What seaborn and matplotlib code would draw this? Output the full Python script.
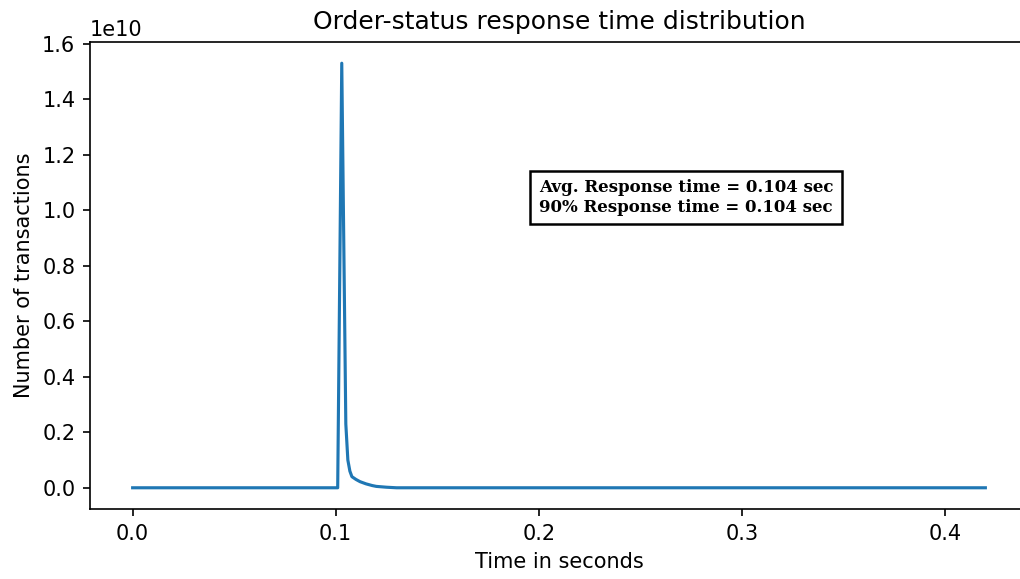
import matplotlib
matplotlib.use("Agg")
import matplotlib.pyplot as plt
import seaborn as sns
import pandas as pd

# Response time (s) and number of transactions
times = [0.000, 0.100, 0.101, 0.102, 0.103, 0.104, 0.105, 0.106, 0.107,
         0.108, 0.110, 0.112, 0.115, 0.118, 0.120, 0.125, 0.130, 0.200,
         0.300, 0.420]
counts = [0.0, 0.0, 0.0, 0.76e10, 1.53e10, 0.88e10, 0.23e10, 0.10e10,
          0.06e10, 0.04e10, 0.03e10, 0.022e10, 0.014e10, 0.008e10,
          0.005e10, 0.002e10, 0.0, 0.0, 0.0, 0.0]

title = "Order-status response time distribution"
xlabel = "Time in seconds"
ylabel = "Number of transactions"
note = "Avg. Response time = 0.104 sec\n90% Response time = 0.104 sec"

df = pd.DataFrame({"time": times, "count": counts})

DPI = 150
fig = plt.figure(figsize=(1020 / DPI, 579 / DPI), dpi=DPI)
ax = fig.add_axes([90 / 1020, 70 / 579, 938 / 1020, 467 / 579])
sns.lineplot(data=df, x="time", y="count", ax=ax, color="#1f77b4", linewidth=1.5)
ax.set_title(title, fontsize=12)
ax.set_xlabel(xlabel)
ax.set_ylabel(ylabel)
ax.set_xticks([0.0, 0.1, 0.2, 0.3, 0.4])
ax.text(0.2, 0.995e10, note, family="DejaVu Serif", fontweight="bold", fontsize=8,
        bbox=dict(facecolor="white", edgecolor="black", linewidth=1.2))
fig.savefig("out.png", dpi=DPI)
